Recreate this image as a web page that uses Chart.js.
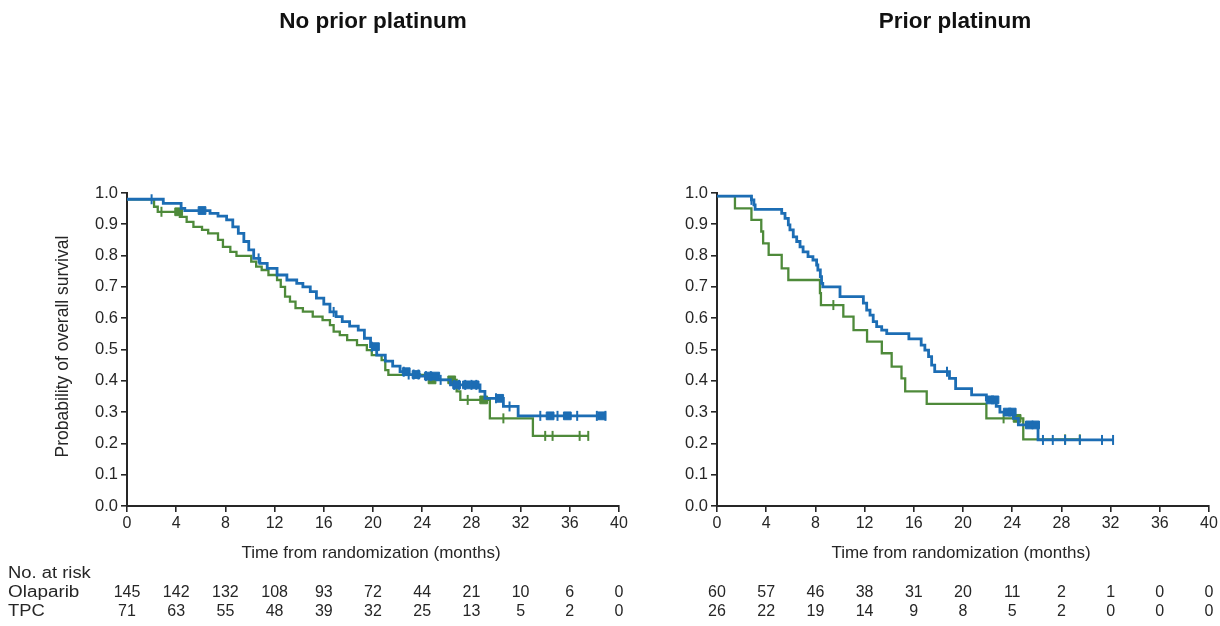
<!DOCTYPE html>
<html>
<head>
<meta charset="utf-8">
<script src="https://cdn.jsdelivr.net/npm/chart.js@4.4.1/dist/chart.umd.min.js"></script>
<style>
  html, body { margin: 0; padding: 0; background: #ffffff; }
  #wrap { position: relative; width: 1220px; height: 626px; overflow: hidden; background: #fff; }
  canvas { position: absolute; top: 0; }
  #cLeft { left: 0; }
  #cRight { left: 640px; }
</style>
</head>
<body>
<div id="wrap">
  <canvas id="cLeft" width="640" height="626"></canvas>
  <canvas id="cRight" width="580" height="626"></canvas>
</div>
<script>
// ---- Axis ticks and risk-table time points (months) ----
const monthTicks = [0, 4, 8, 12, 16, 20, 24, 28, 32, 36, 40];

// ---- No prior platinum: Olaparib KM steps ----
const npOlapT = [0, 2.95, 4.4, 4.7, 6.75, 7.4, 8.1, 8.6, 9.05, 9.5, 9.9, 10.3, 10.8, 11.4, 12.2, 13.0, 13.8, 14.3, 14.9, 15.4, 16.0, 16.5, 17.0, 17.5, 18.1, 18.8, 19.3, 19.8, 20.3, 21.0, 21.6, 22.2, 22.8, 23.8, 25.2, 26.3, 28.7, 29.1, 30.6, 31.8, 38.9];
const npOlapS = [0.98, 0.967, 0.951, 0.944, 0.935, 0.926, 0.914, 0.892, 0.871, 0.845, 0.818, 0.791, 0.775, 0.759, 0.738, 0.722, 0.711, 0.700, 0.685, 0.664, 0.645, 0.620, 0.605, 0.589, 0.575, 0.562, 0.536, 0.509, 0.482, 0.463, 0.447, 0.429, 0.420, 0.415, 0.403, 0.387, 0.366, 0.344, 0.318, 0.288, 0.288];
const npOlapTicks = [2.0, 10.7, 16.8, 19.9, 22.5, 22.9, 23.3, 23.7, 24.3, 24.7, 25.5, 26.6, 27.0, 27.5, 28.0, 28.4, 30.0, 31.1, 33.6, 35.0, 36.6, 38.2, 38.9];
const npOlapBlocks = [6.1, 20.2, 22.7, 23.5, 24.5, 25.1, 26.8, 27.6, 28.3, 30.3, 34.4, 35.8, 38.6];

// ---- No prior platinum: TPC KM steps ----
const npTpcT = [0, 2.2, 2.5, 4.3, 4.85, 5.4, 6.1, 6.6, 7.4, 7.8, 8.4, 8.9, 10.1, 10.5, 10.95, 11.5, 12.2, 12.5, 12.85, 13.25, 13.7, 14.3, 15.1, 15.9, 16.5, 16.8, 17.3, 17.9, 18.7, 19.5, 19.9, 20.7, 21.0, 21.25, 24.6, 26.8, 27.1, 29.5, 33.0, 37.5];
const npTpcS = [0.98, 0.956, 0.940, 0.924, 0.908, 0.892, 0.882, 0.871, 0.850, 0.828, 0.812, 0.799, 0.781, 0.765, 0.754, 0.738, 0.722, 0.700, 0.669, 0.653, 0.632, 0.621, 0.605, 0.594, 0.578, 0.557, 0.546, 0.530, 0.514, 0.498, 0.482, 0.466, 0.434, 0.419, 0.403, 0.366, 0.339, 0.280, 0.224, 0.224];
const npTpcTicks = [2.8, 27.7, 30.6, 34.0, 34.6, 36.8, 37.5];
const npTpcBlocks = [4.2, 24.8, 26.4, 29.0];

// ---- Prior platinum: Olaparib KM steps ----
const pOlapT = [0, 2.8, 3.0, 3.1, 5.26, 5.53, 5.8, 5.93, 6.2, 6.48, 6.75, 7.0, 7.4, 7.8, 8.1, 8.2, 8.4, 8.5, 8.6, 10.0, 11.9, 12.17, 12.44, 12.7, 12.98, 13.39, 13.8, 15.6, 16.6, 16.9, 17.2, 17.45, 17.7, 18.9, 19.4, 20.7, 21.9, 22.7, 23.0, 24.1, 24.5, 26.1, 32.2];
const pOlapS = [0.99, 0.978, 0.962, 0.948, 0.935, 0.919, 0.898, 0.882, 0.860, 0.845, 0.828, 0.812, 0.797, 0.786, 0.770, 0.754, 0.733, 0.711, 0.700, 0.669, 0.648, 0.626, 0.610, 0.589, 0.573, 0.562, 0.551, 0.534, 0.514, 0.498, 0.477, 0.450, 0.429, 0.408, 0.375, 0.355, 0.339, 0.318, 0.300, 0.280, 0.259, 0.211, 0.211];
const pOlapTicks = [2.8, 18.7, 26.5, 27.3, 28.3, 29.5, 31.3, 32.2];
const pOlapBlocks = [22.2, 22.6, 23.6, 24.0, 25.4, 25.9];

// ---- Prior platinum: TPC KM steps ----
const pTpcT = [0, 1.46, 2.8, 3.6, 3.75, 4.2, 5.26, 5.8, 8.37, 8.45, 10.27, 11.1, 12.2, 13.4, 14.2, 15.0, 15.3, 17.05, 21.9, 24.9, 29.5];
const pTpcS = [0.99, 0.951, 0.914, 0.877, 0.839, 0.802, 0.759, 0.722, 0.680, 0.642, 0.605, 0.562, 0.525, 0.488, 0.445, 0.408, 0.366, 0.326, 0.280, 0.213, 0.213];
const pTpcTicks = [9.46, 23.3, 28.3, 29.5];
const pTpcBlocks = [24.4];

// ---- Number at risk ----
const npOlapRisk = [145, 142, 132, 108, 93, 72, 44, 21, 10, 6, 0];
const npTpcRisk = [71, 63, 55, 48, 39, 32, 25, 13, 5, 2, 0];
const pOlapRisk = [60, 57, 46, 38, 31, 20, 11, 2, 1, 0, 0];
const pTpcRisk = [26, 22, 19, 14, 9, 8, 5, 2, 0, 0, 0];

// ---- Styling ----
const BLUE = '#1c6db4';
const GREEN = '#4e8a3a';
const INK = '#262626';
const FONT = "'Liberation Sans', Arial, Helvetica, sans-serif";

// survival value of a step curve at time t
function stepValue(ts, ss, t) {
  let v = ss[0];
  for (let i = 0; i < ts.length; i++) { if (ts[i] <= t) v = ss[i]; }
  return v;
}
const curvePoints = (ts, ss) => ts.map((t, i) => ({ x: t, y: ss[i] }));
const censorPoints = (ts, ss, cs) => cs.map(t => ({ x: t, y: stepValue(ts, ss, t) }));

function kmDatasets(o, g) {
  return [
    { data: curvePoints(o.t, o.s), borderColor: BLUE, borderWidth: 2.8, stepped: 'before', pointRadius: 0, fill: false },
    { type: 'scatter', data: censorPoints(o.t, o.s, o.ticks), pointStyle: 'line', rotation: 90, pointRadius: 5, borderColor: BLUE, backgroundColor: BLUE, pointBorderWidth: 2, showLine: false },
    { type: 'scatter', data: censorPoints(o.t, o.s, o.blocks), pointStyle: 'rect', pointRadius: 5.5, borderColor: BLUE, backgroundColor: BLUE, pointBorderWidth: 1, showLine: false },
    { data: curvePoints(g.t, g.s), borderColor: GREEN, borderWidth: 2.3, stepped: 'before', pointRadius: 0, fill: false },
    { type: 'scatter', data: censorPoints(g.t, g.s, g.ticks), pointStyle: 'line', rotation: 90, pointRadius: 5, borderColor: GREEN, backgroundColor: GREEN, pointBorderWidth: 2, showLine: false },
    { type: 'scatter', data: censorPoints(g.t, g.s, g.blocks), pointStyle: 'rect', pointRadius: 5.5, borderColor: GREEN, backgroundColor: GREEN, pointBorderWidth: 1, showLine: false }
  ];
}

// draws text stretched horizontally by sx, anchored at its left edge
function wideText(ctx, text, x, y, sx) {
  ctx.save();
  ctx.translate(x, y);
  ctx.scale(sx, 1);
  ctx.fillText(text, 0, 0);
  ctx.restore();
}

// Titles, axis captions and the number-at-risk table
function annotations(cfg) {
  return {
    id: 'kmText',
    afterDraw(chart) {
      const { ctx, chartArea, scales } = chart;
      const xs = scales.x;
      const midX = (chartArea.left + chartArea.right) / 2;
      ctx.save();
      ctx.fillStyle = '#111';
      ctx.textAlign = 'center';
      ctx.textBaseline = 'middle';
      ctx.font = `bold 22.5px ${FONT}`;
      ctx.fillText(cfg.title, midX + cfg.titleShift, 22);

      ctx.fillStyle = INK;
      ctx.font = `17px ${FONT}`;
      ctx.fillText('Time from randomization (months)', midX - 2, 553);

      if (cfg.yTitle) {
        ctx.save();
        ctx.translate(63, (chartArea.top + chartArea.bottom) / 2 - 3);
        ctx.rotate(-Math.PI / 2);
        ctx.font = `17.5px ${FONT}`;
        ctx.fillText('Probability of overall survival', 0, 0);
        ctx.restore();
      }

      if (cfg.rowLabels) {
        ctx.textAlign = 'left';
        ctx.font = `16px ${FONT}`;
        wideText(ctx, 'No. at risk', 8, 574, 1.15);
        wideText(ctx, 'Olaparib', 8, 593, 1.18);
        wideText(ctx, 'TPC', 8, 612, 1.15);
      }
      ctx.textAlign = 'center';
      ctx.font = `16px ${FONT}`;
      monthTicks.forEach((m, i) => {
        const px = xs.getPixelForValue(m);
        ctx.fillText(String(cfg.olapRisk[i]), px, 593);
        ctx.fillText(String(cfg.tpcRisk[i]), px, 612);
      });
      ctx.restore();
    }
  };
}

function makeChart(id, yWidth, padRight, o, g, cfg) {
  return new Chart(document.getElementById(id), {
    type: 'line',
    data: { datasets: kmDatasets(o, g) },
    options: {
      responsive: false,
      animation: false,
      events: [],
      layout: { padding: { top: 193, right: padRight, left: 0, bottom: 0 } },
      plugins: { legend: { display: false }, tooltip: { enabled: false }, title: { display: false } },
      scales: {
        x: {
          type: 'linear', min: 0, max: 40,
          afterBuildTicks: s => { s.ticks = monthTicks.map(v => ({ value: v })); },
          ticks: { color: INK, font: { family: FONT, size: 16 }, padding: 2, maxRotation: 0, autoSkip: false },
          grid: { drawOnChartArea: false, drawTicks: true, tickLength: 6, color: INK, lineWidth: 1.6 },
          border: { display: true, color: INK, width: 2 },
          afterFit: s => { s.height = 120; }
        },
        y: {
          min: 0, max: 1,
          ticks: { stepSize: 0.1, color: INK, font: { family: FONT, size: 16.5 }, padding: 3, callback: v => Number(v).toFixed(1) },
          grid: { drawOnChartArea: false, drawTicks: true, tickLength: 6, color: INK, lineWidth: 1.6 },
          border: { display: true, color: INK, width: 2 },
          afterFit: s => { s.width = yWidth; }
        }
      }
    },
    plugins: [annotations(cfg)]
  });
}

makeChart('cLeft', 127, 21,
  { t: npOlapT, s: npOlapS, ticks: npOlapTicks, blocks: npOlapBlocks },
  { t: npTpcT, s: npTpcS, ticks: npTpcTicks, blocks: npTpcBlocks },
  { title: 'No prior platinum', titleShift: 0, yTitle: true, rowLabels: true, olapRisk: npOlapRisk, tpcRisk: npTpcRisk });

makeChart('cRight', 77, 11,
  { t: pOlapT, s: pOlapS, ticks: pOlapTicks, blocks: pOlapBlocks },
  { t: pTpcT, s: pTpcS, ticks: pTpcTicks, blocks: pTpcBlocks },
  { title: 'Prior platinum', titleShift: -8, yTitle: false, rowLabels: false, olapRisk: pOlapRisk, tpcRisk: pTpcRisk });
</script>
</body>
</html>
